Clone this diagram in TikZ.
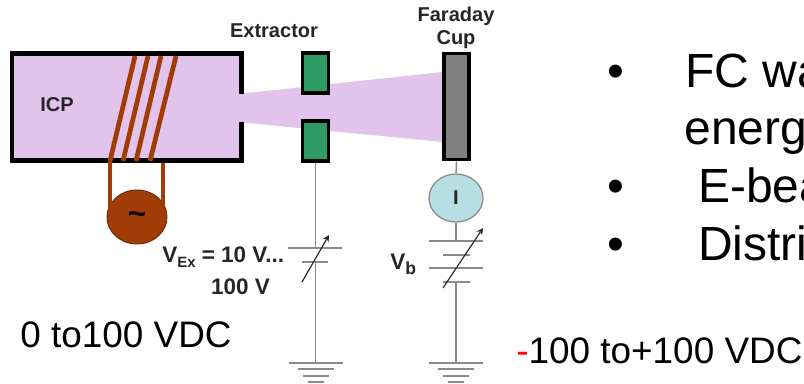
\documentclass[tikz,border=0pt]{standalone}
\usepackage{fontspec}
\setmainfont{Liberation Sans}
\usetikzlibrary{shapes.geometric}
\definecolor{plasma}{HTML}{E2C3EC}
\definecolor{coil}{HTML}{A23C06}
\definecolor{electrode}{HTML}{2F9A63}
\definecolor{cup}{HTML}{808080}
\definecolor{meter}{HTML}{B7DEE2}
\definecolor{wire}{HTML}{8A8A8A}
\definecolor{label}{HTML}{262626}
\tikzset{
  px/.style={x=0.02cm,y=-0.02cm},
  wall/.style={line width=0.1cm,black},
  winding/.style={line width=0.095cm,coil},
  plate/.style={draw=wire,line width=0.028cm},
  tune/.style={->,wire!30!black,line width=0.024cm,>={stealth[length=0.16cm,width=0.12cm]}},
  elec/.style={draw=black,line width=0.07cm,fill=electrode,minimum width=0.52cm,minimum height=0.8cm,inner sep=0},
  tag/.style={font=\fontsize{11.4}{13}\selectfont\bfseries,text=label,inner sep=0},
  bigtag/.style={font=\fontsize{12.8}{15}\selectfont\bfseries,text=label,inner sep=0},
  slide/.style={font=\fontsize{27.3}{32}\selectfont,anchor=base west,inner sep=0},
  volt/.style={font=\fontsize{21}{25}\selectfont,anchor=base west,inner sep=0}
}
\usetikzlibrary{arrows.meta}
\begin{document}
\begin{tikzpicture}[>=stealth,px]
      \clip (0,0) rectangle (804,384);
      \fill[white] (0,0) rectangle (804,384);
      % chamber and beam
      \fill[plasma] (12,54) rectangle (241,161);
      \fill[plasma] (238,94) -- (443,72) -- (443,142) -- (238,122) -- cycle;
      \draw[wall] (241,94) -- (241,54) -- (12,54) -- (12,161) -- (241,161) -- (241,122);
      \node (icp) at (57,105) [tag] {ICP};
      % coil
      \foreach \xa/\xb in {110/135,123/148,136/161,150/176}
        \draw[winding] (\xa,161) -- (\xb,56);
      \node (rf) at (137,217) [ellipse,draw=coil!70!black,line width=0.02cm,fill=coil,minimum width=1.2cm,minimum height=1.08cm,inner sep=0] {};
      \node (tilde) at (137,218) [font=\fontsize{18}{20}\selectfont\bfseries,inner sep=0] {\char"007E};
      \coordinate (la) at (110,161);
      \coordinate (lb) at (163,163);
      \draw[winding,line width=0.09cm] (la) -- (110,212);
      \draw[winding,line width=0.09cm] (lb) -- (163,206);
      % extractor
      \node (gridtop) at (315.5,73) [elec] {};
      \node (gridbot) at (315.5,141) [elec] {};
      \node (extractor) at (274,31) [tag] {Extractor};
      \coordinate (exa) at (315.5,248);
      \coordinate (exb) at (315.5,262);
      \coordinate (gnda) at (315.5,363);
      \draw[plate] (gridbot.south) -- (exa);
      \draw[plate] (exb) -- (gnda);
      \draw[plate] (288,248) -- (342,248);
      \draw[plate] (302,262) -- (328,262);
      \draw[tune] (302,282) -- (329,235);
      \node (vex) at (162,263) [bigtag,anchor=base west] {V\raisebox{-0.35ex}{\fontsize{8.5}{9}\selectfont Ex} = 10 V...};
      \node (vexb) at (240.5,287) [bigtag] {100 V};
      % faraday cup
      \node (fc) at (456.5,106.5) [draw=black,line width=0.07cm,fill=cup,minimum width=0.5cm,minimum height=2.13cm,inner sep=0] {};
      \node (faraday) at (456,16) [tag] {Faraday};
      \node (cupname) at (456,40) [tag] {Cup};
      \node (ammeter) at (456,198) [ellipse,draw=wire,line width=0.025cm,fill=meter,minimum width=1.08cm,minimum height=0.96cm,inner sep=0,tag] {I};
      \coordinate (fca) at (456,241);
      \coordinate (fcb) at (456,282);
      \coordinate (gndb) at (456,363);
      \draw[plate] (fc.south) -- (ammeter.north);
      \draw[plate] (ammeter.south) -- (fca);
      \draw[plate] (fcb) -- (gndb);
      \draw[plate] (429,241) -- (483,241);
      \draw[plate] (443,255) -- (470,255);
      \draw[plate] (429,268) -- (483,268);
      \draw[plate] (443,282) -- (470,282);
      \draw[tune] (443,288) -- (483,228);
      \node (vb) at (390,270) [bigtag,anchor=base west] {V\raisebox{-0.4ex}{\fontsize{10}{11}\selectfont b}};
      % grounds
      \foreach \xg in {315.5,456} {
        \draw[plate] (\xg-27,363) -- (\xg+27,363);
        \draw[plate] (\xg-18,369) -- (\xg+18,369);
        \draw[plate] (\xg-13,376) -- (\xg+13,376);
        \draw[plate] (\xg-8,382) -- (\xg+8,382);
      }
      % text on the right
      \node (ba) at (607,88) [slide] {•};
      \node (bb) at (607,203) [slide] {•};
      \node (bc) at (607,261) [slide] {•};
      \node (fctext) at (685,88) [slide] {FC wa};
      \node (entext) at (684,145) [slide] {energ};
      \node (ebtext) at (698,203) [slide] {E-bea};
      \node (ditext) at (698,261) [slide] {Distri};
      \node (rangea) at (20,348) [volt] {0 to100 VDC};
      \node (rangeb) at (516,364) [volt] {\textcolor{red}{-}100 to+100 VDC};
    \end{tikzpicture}
\end{document}
